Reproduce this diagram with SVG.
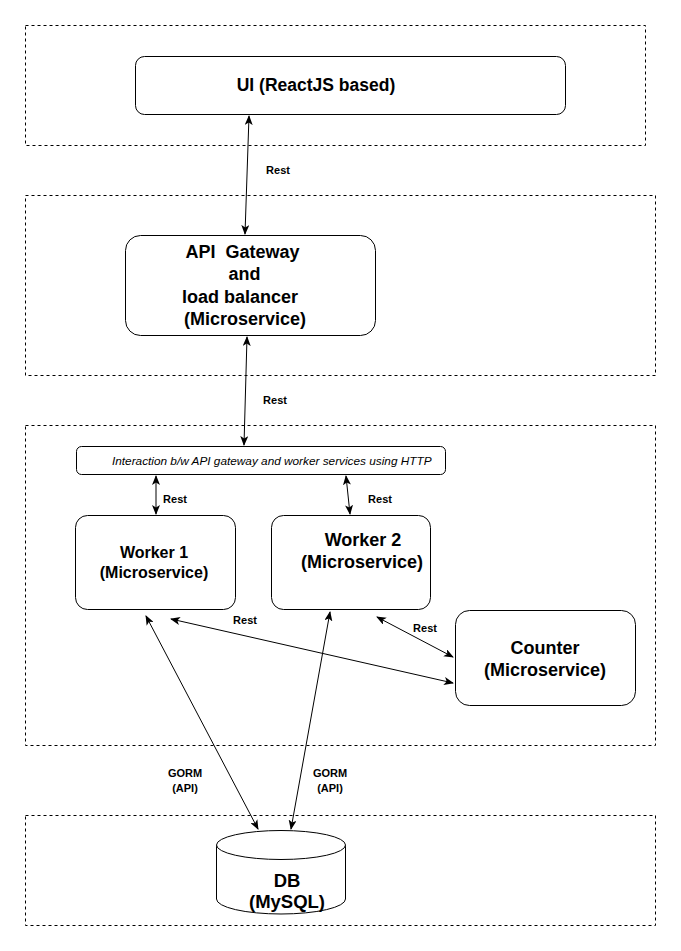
<svg xmlns="http://www.w3.org/2000/svg" width="681" height="951" viewBox="0 0 681 951">
  <style>
    .zone { fill: none; stroke: #000; stroke-width: 1; stroke-dasharray: 3 3; }
    .box { fill: #fff; stroke: #000; stroke-width: 1; }
    .t { font-family: "Liberation Sans", Arial, sans-serif; font-weight: bold; fill: #000; text-anchor: middle; }
    .lbl { font-family: "Liberation Sans", Arial, sans-serif; font-weight: bold; font-size: 11px; fill: #000; text-anchor: middle; }
    .edge { fill: none; stroke: #000; stroke-width: 1; marker-start: url(#arrow); marker-end: url(#arrow); }
  </style>
  <defs>
    <marker id="arrow" viewBox="0 0 10 8" refX="9" refY="4" markerWidth="10" markerHeight="8" markerUnits="userSpaceOnUse" orient="auto-start-reverse">
      <path d="M0,0 L10,4 L0,8 L2.5,4 z" fill="#000"/>
    </marker>
  </defs>
  <rect width="681" height="951" fill="#fff"/>

  <!-- tiers -->
  <g id="tiers">
    <rect class="zone" x="25.5" y="25.5" width="620" height="120"/>
    <rect class="zone" x="25.5" y="195.5" width="630" height="180"/>
    <rect class="zone" x="25.5" y="425.5" width="630" height="320"/>
    <rect class="zone" x="25.5" y="815.5" width="630" height="110"/>
  </g>

  <g id="ui">
    <rect class="box" x="135.5" y="56.5" width="430" height="58" rx="9"/>
    <text class="t" x="316" y="91" font-size="17.5">UI (ReactJS based)</text>
  </g>

  <g id="gateway">
    <rect class="box" x="125.5" y="235.5" width="250" height="100" rx="15"/>
    <text class="t" x="242.5" y="258" font-size="18" xml:space="preserve">API  Gateway</text>
    <text class="t" x="244.5" y="280" font-size="18">and</text>
    <text class="t" x="240" y="303" font-size="18">load balancer</text>
    <text class="t" x="245" y="325" font-size="18">(Microservice)</text>
  </g>

  <g id="interaction">
    <rect class="box" x="76.5" y="446.5" width="369" height="28" rx="5"/>
    <text x="112" y="465" font-family="Liberation Sans, Arial, sans-serif" font-style="italic" font-size="11.8">Interaction b/w API gateway and worker services using HTTP</text>
  </g>

  <g id="worker1">
    <rect class="box" x="75.5" y="515.5" width="160" height="94" rx="12"/>
    <text class="t" x="154" y="558" font-size="16">Worker 1</text>
    <text class="t" x="154" y="578" font-size="16">(Microservice)</text>
  </g>

  <g id="worker2">
    <rect class="box" x="271.5" y="515.5" width="159" height="94" rx="12"/>
    <text class="t" x="363" y="546" font-size="18">Worker 2</text>
    <text class="t" x="362" y="568" font-size="18">(Microservice)</text>
  </g>

  <g id="counter">
    <rect class="box" x="455.5" y="610.5" width="180" height="95" rx="14"/>
    <text class="t" x="545" y="654" font-size="18">Counter</text>
    <text class="t" x="545" y="676" font-size="18">(Microservice)</text>
  </g>

  <g id="db">
    <path class="box" d="M216.5,845 L216.5,899 A64.5,15 0 0 0 345.5,899 L345.5,845"/>
    <ellipse class="box" cx="281" cy="845" rx="64.5" ry="14.5"/>
    <text class="t" x="287" y="887" font-size="18.5">DB</text>
    <text class="t" x="287" y="908" font-size="18.5">(MySQL)</text>
  </g>

  <!-- connectors -->
  <g id="connectors">
    <line class="edge" x1="249" y1="116" x2="245" y2="234"/>
    <line class="edge" x1="247" y1="337" x2="244" y2="445"/>
    <line class="edge" x1="156" y1="476" x2="156" y2="514"/>
    <line class="edge" x1="346" y1="476" x2="350" y2="514"/>
    <line class="edge" x1="171" y1="619" x2="453" y2="683"/>
    <line class="edge" x1="377" y1="617" x2="453" y2="657"/>
    <line class="edge" x1="146" y1="616" x2="258" y2="829"/>
    <line class="edge" x1="330" y1="612" x2="291" y2="829"/>
    <text class="lbl" x="278" y="174">Rest</text>
    <text class="lbl" x="275" y="404">Rest</text>
    <text class="lbl" x="175" y="503">Rest</text>
    <text class="lbl" x="380" y="503">Rest</text>
    <text class="lbl" x="245" y="624">Rest</text>
    <text class="lbl" x="425" y="632">Rest</text>
    <text class="lbl" x="185" y="777">GORM</text>
    <text class="lbl" x="185" y="792">(API)</text>
    <text class="lbl" x="330" y="777">GORM</text>
    <text class="lbl" x="330" y="792">(API)</text>
  </g>
</svg>
